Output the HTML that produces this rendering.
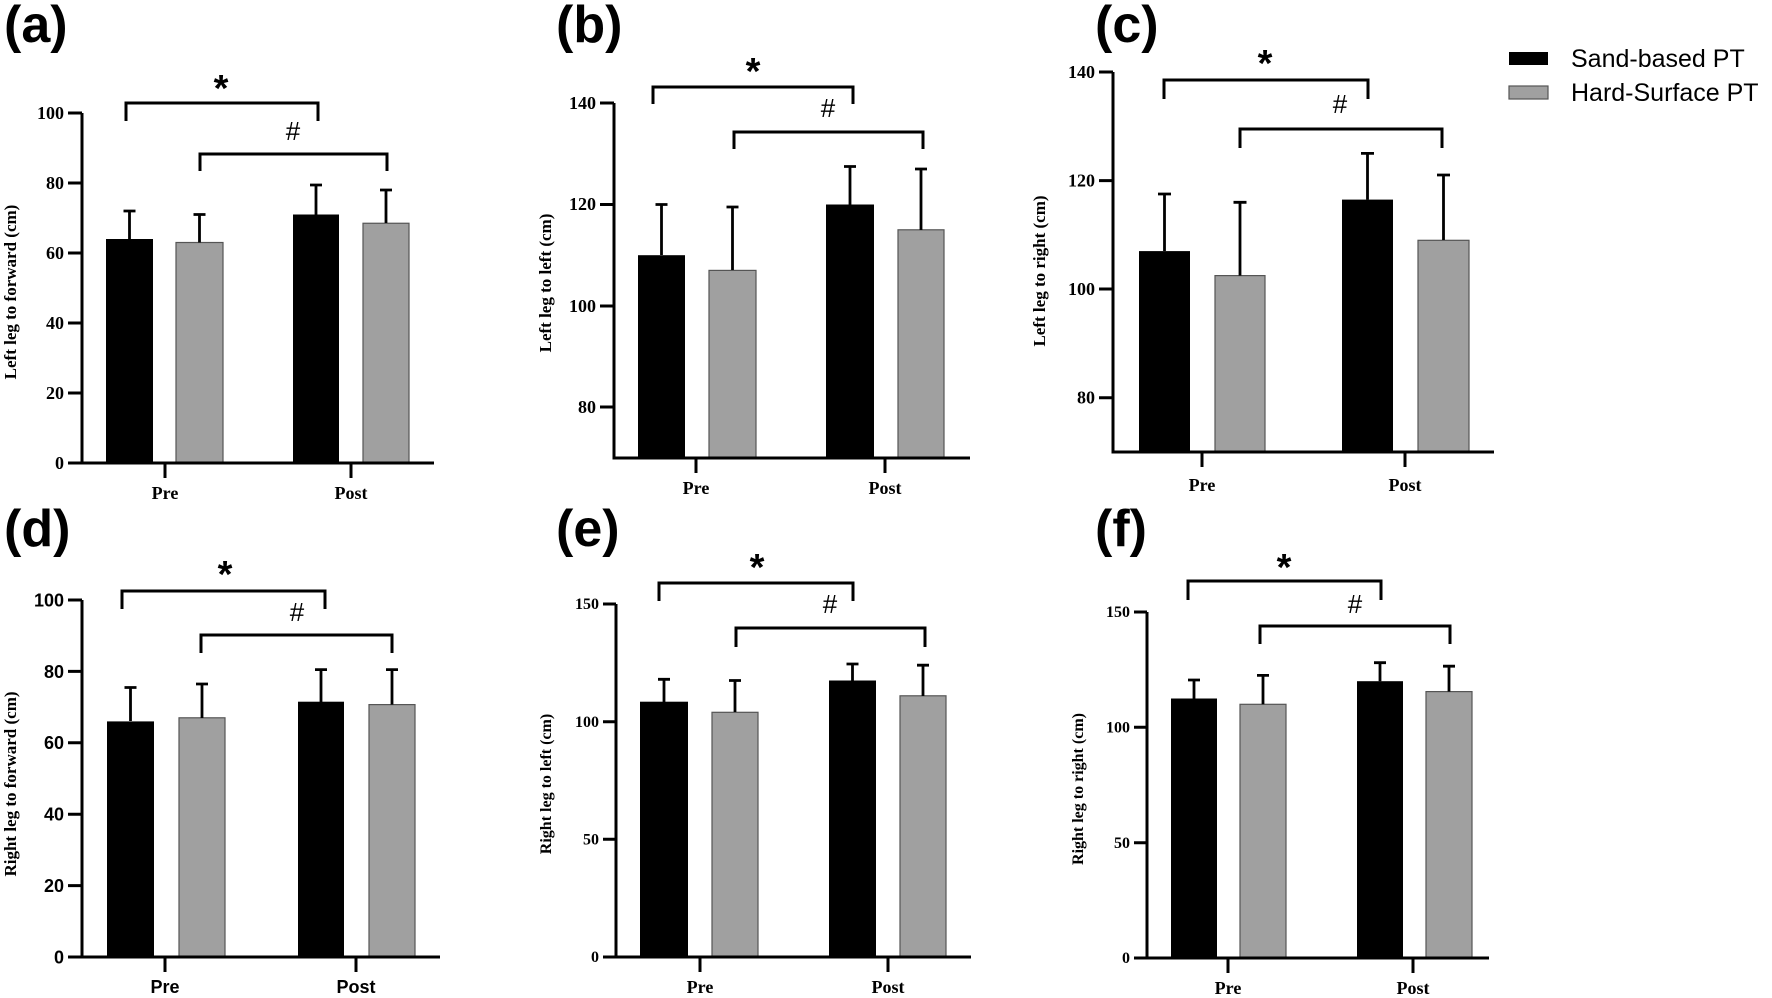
<!DOCTYPE html>
<html><head><meta charset="utf-8"><style>
html,body{margin:0;padding:0;background:#fff}
svg{display:block}
.s{font-family:"Liberation Serif",serif;font-weight:bold}
.a{font-family:"Liberation Sans",sans-serif;font-weight:bold}
.g{fill:#a0a0a0;stroke:#555;stroke-width:1.2}
.k{fill:#000}
.l{stroke:#000;stroke-width:3;fill:none}
.e{stroke:#000;stroke-width:2.8;fill:none}
</style></head><body>
<svg width="1772" height="998" viewBox="0 0 1772 998" xmlns="http://www.w3.org/2000/svg">
<g class="a" font-size="52">
<text x="4" y="42">(a)</text>
<text x="556" y="42">(b)</text>
<text x="1095" y="42">(c)</text>
<text x="4" y="546">(d)</text>
<text x="556" y="546">(e)</text>
<text x="1095" y="546">(f)</text>
</g>
<rect x="1509" y="52" width="39" height="13" fill="#000"/>
<rect x="1509" y="86" width="39" height="13" class="g"/>
<text x="1571" y="67" font-family="Liberation Sans,sans-serif" font-size="25">Sand-based PT</text>
<text x="1571" y="101" font-family="Liberation Sans,sans-serif" font-size="25">Hard-Surface PT</text>

<g>
<rect x="106" y="239" width="47" height="224" class="k"/>
<rect x="176" y="242.5" width="47" height="220.5" class="g"/>
<rect x="293" y="214.5" width="46" height="248.5" class="k"/>
<rect x="363" y="223.25" width="46" height="239.75" class="g"/>
<path class="e" d="M129.5 239V211M123.5 211H135.5M199.5 242.5V214.5M193.5 214.5H205.5M316 214.5V185M310 185H322M386 223V190M380 190H392"/>
<path class="l" d="M82 113V463H434M68 113H82M68 183H82M68 253H82M68 323H82M68 393H82M68 463H82M165 463V478M351 463V478"/>
<g class="s" font-size="18" text-anchor="end">
<text x="64" y="119">100</text><text x="64" y="189">80</text><text x="64" y="259">60</text><text x="64" y="329">40</text><text x="64" y="399">20</text><text x="64" y="469">0</text>
</g>
<g class="s" font-size="18" text-anchor="middle"><text x="165" y="499">Pre</text><text x="351" y="499">Post</text></g>
<text class="s" font-size="17" text-anchor="middle" transform="translate(16 292) rotate(-90)">Left leg to forward (cm)</text>
<path class="l" d="M126 121V103H318V121M200 171V154H387V171"/>
<text class="a" font-size="38" x="221" y="101" text-anchor="middle">*</text>
<text font-family="Liberation Sans,sans-serif" font-size="26" x="293" y="140" text-anchor="middle">#</text>
</g>

<g>
<rect x="638" y="255.2" width="47" height="202.8" class="k"/>
<rect x="709" y="270.4" width="47" height="187.6" class="g"/>
<rect x="826" y="204.5" width="48" height="253.5" class="k"/>
<rect x="898" y="229.8" width="46" height="228.2" class="g"/>
<path class="e" d="M661.5 255V204.5M655.5 204.5H667.5M732.5 270V207M726.5 207H738.5M850 204.5V166.5M844 166.5H856M921 230V169M915 169H927"/>
<path class="l" d="M614 103V458H970M600 103H614M600 204.5H614M600 306H614M600 407H614M696 458V473M885 458V473"/>
<g class="s" font-size="18" text-anchor="end">
<text x="596" y="109">140</text><text x="596" y="210">120</text><text x="596" y="312">100</text><text x="596" y="413">80</text>
</g>
<g class="s" font-size="18" text-anchor="middle"><text x="696" y="494">Pre</text><text x="885" y="494">Post</text></g>
<text class="s" font-size="17" text-anchor="middle" transform="translate(551 283) rotate(-90)">Left leg to left (cm)</text>
<path class="l" d="M653 104V87H853V104M734 149V132H923V149"/>
<text class="a" font-size="38" x="753" y="84" text-anchor="middle">*</text>
<text font-family="Liberation Sans,sans-serif" font-size="26" x="828" y="117" text-anchor="middle">#</text>
</g>

<g>
<rect x="1139" y="251.1" width="51" height="200.9" class="k"/>
<rect x="1215" y="275.6" width="50" height="176.4" class="g"/>
<rect x="1342" y="199.6" width="51" height="252.4" class="k"/>
<rect x="1418" y="240.3" width="51" height="211.7" class="g"/>
<path class="e" d="M1164.5 251V194M1158 194H1171M1240 275.6V202.3M1233.5 202.3H1246.5M1367.5 199.6V153.4M1361 153.4H1374M1443.5 240V175M1437 175H1450"/>
<path class="l" d="M1113 72V452H1494M1099 72H1113M1099 180.6H1113M1099 289H1113M1099 397.7H1113M1202 452V467M1405 452V467"/>
<g class="s" font-size="18" text-anchor="end">
<text x="1095" y="78">140</text><text x="1095" y="186.6">120</text><text x="1095" y="295">100</text><text x="1095" y="403.7">80</text>
</g>
<g class="s" font-size="18" text-anchor="middle"><text x="1202" y="491">Pre</text><text x="1405" y="491">Post</text></g>
<text class="s" font-size="17" text-anchor="middle" transform="translate(1045 271) rotate(-90)">Left leg to right (cm)</text>
<path class="l" d="M1164 99V80H1368V99M1240 148V129H1442V148"/>
<text class="a" font-size="38" x="1265" y="76" text-anchor="middle">*</text>
<text font-family="Liberation Sans,sans-serif" font-size="26" x="1340" y="113" text-anchor="middle">#</text>
</g>

<g>
<rect x="107" y="721.4" width="47" height="235.6" class="k"/>
<rect x="179" y="717.8" width="46" height="239.2" class="g"/>
<rect x="298" y="701.7" width="46" height="255.3" class="k"/>
<rect x="369" y="704.6" width="46" height="252.4" class="g"/>
<path class="e" d="M130.5 721V687.5M124.5 687.5H136.5M202 718V684M196 684H208M321 702V669.6M315 669.6H327M392 704.6V669.6M386 669.6H398"/>
<path class="l" d="M82 600V957H440M68 600H82M68 671.4H82M68 742.8H82M68 814.2H82M68 885.6H82M68 957H82M165 957V972M356 957V972"/>
<g class="a" font-size="18" text-anchor="end">
<text x="64" y="606.5">100</text><text x="64" y="678">80</text><text x="64" y="749">60</text><text x="64" y="820.5">40</text><text x="64" y="892">20</text><text x="64" y="963.5">0</text>
</g>
<g class="a" font-size="18" text-anchor="middle"><text x="165" y="993">Pre</text><text x="356" y="993">Post</text></g>
<text class="s" font-size="17" text-anchor="middle" transform="translate(16 784) rotate(-90)">Right leg to forward (cm)</text>
<path class="l" d="M122 609V591H325V609M201 653V635H392V653"/>
<text class="a" font-size="38" x="225" y="587" text-anchor="middle">*</text>
<text font-family="Liberation Sans,sans-serif" font-size="26" x="297" y="621" text-anchor="middle">#</text>
</g>

<g>
<rect x="640" y="701.7" width="48" height="255.3" class="k"/>
<rect x="712" y="712.3" width="46" height="244.7" class="g"/>
<rect x="829" y="680.5" width="47" height="276.5" class="k"/>
<rect x="900" y="695.8" width="46" height="261.2" class="g"/>
<path class="e" d="M664 702V679.3M658 679.3H670M735 712V680.5M729 680.5H741M852.5 680.5V664M846.5 664H858.5M923 696V665.2M917 665.2H929"/>
<path class="l" d="M616 604V957H971M603 604H616M603 721.7H616M603 839.3H616M603 957H616M700 957V972M888 957V972"/>
<g class="s" font-size="16" text-anchor="end">
<text x="599" y="609">150</text><text x="599" y="727">100</text><text x="599" y="844.5">50</text><text x="599" y="962">0</text>
</g>
<g class="s" font-size="18" text-anchor="middle"><text x="700" y="993">Pre</text><text x="888" y="993">Post</text></g>
<text class="s" font-size="16" text-anchor="middle" transform="translate(551 784) rotate(-90)">Right leg to left (cm)</text>
<path class="l" d="M659 601V583H853V601M736 647V628H925V647"/>
<text class="a" font-size="38" x="757" y="580" text-anchor="middle">*</text>
<text font-family="Liberation Sans,sans-serif" font-size="26" x="830" y="613" text-anchor="middle">#</text>
</g>

<g>
<rect x="1171" y="698.5" width="46" height="259.5" class="k"/>
<rect x="1240" y="704.3" width="46" height="253.7" class="g"/>
<rect x="1357" y="681.2" width="46" height="276.8" class="k"/>
<rect x="1426" y="691.6" width="46" height="266.4" class="g"/>
<path class="e" d="M1194 698.5V680M1188 680H1200M1263 704.3V675.4M1257 675.4H1269M1380 681.2V662.7M1374 662.7H1386M1449 691.6V666.2M1443 666.2H1455"/>
<path class="l" d="M1147 612V958H1489M1134 612H1147M1134 727.3H1147M1134 842.7H1147M1134 958H1147M1228 958V973M1413 958V973"/>
<g class="s" font-size="16" text-anchor="end">
<text x="1130" y="617">150</text><text x="1130" y="732.5">100</text><text x="1130" y="848">50</text><text x="1130" y="963">0</text>
</g>
<g class="s" font-size="18" text-anchor="middle"><text x="1228" y="994">Pre</text><text x="1413" y="994">Post</text></g>
<text class="s" font-size="16" text-anchor="middle" transform="translate(1083 789) rotate(-90)">Right leg to right (cm)</text>
<path class="l" d="M1188 600V581H1381V600M1260 644V626H1450V644"/>
<text class="a" font-size="38" x="1284" y="580" text-anchor="middle">*</text>
<text font-family="Liberation Sans,sans-serif" font-size="26" x="1355" y="613" text-anchor="middle">#</text>
</g>
</svg>
</body></html>
